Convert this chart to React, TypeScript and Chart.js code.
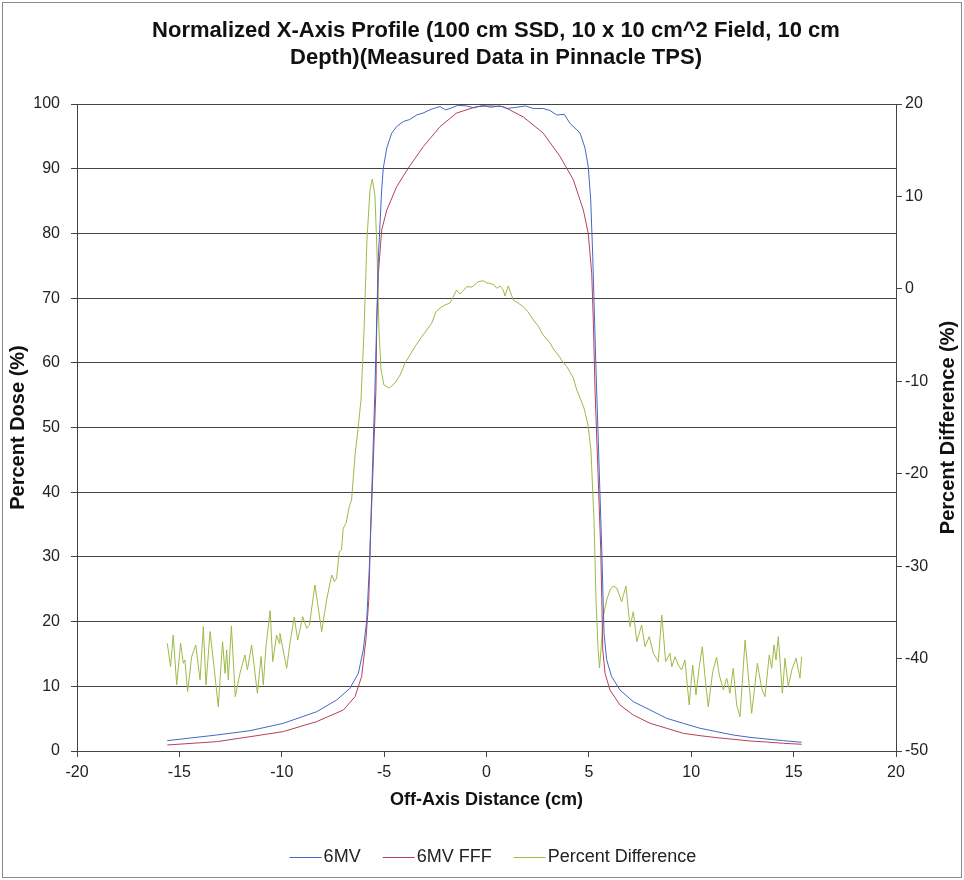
import React, { useEffect, useRef } from "react";
import { Chart, registerables } from "chart.js";

Chart.register(...registerables);

const TITLE_LINES = [
  "Normalized X-Axis Profile (100 cm SSD, 10 x 10 cm^2 Field, 10 cm",
  "Depth)(Measured Data in Pinnacle TPS)",
];
const X_TITLE = "Off-Axis Distance (cm)";
const Y_LEFT_TITLE = "Percent Dose (%)";
const Y_RIGHT_TITLE = "Percent Difference (%)";
const SERIES_NAMES = ["6MV", "6MV FFF", "Percent Difference"];

const X_TICKS = [-20, -15, -10, -5, 0, 5, 10, 15, 20];
const DOSE_TICKS = [0, 10, 20, 30, 40, 50, 60, 70, 80, 90, 100];
const DIFF_TICKS = [-50, -40, -30, -20, -10, 0, 10, 20];

// 6MV profile
const mv6X = [
  -15.59, -13.18, -11.55, -9.92, -8.29, -7.32, -6.67, -6.26, -6.02, -5.85, -5.72, -5.64,
  -5.45, -5.28, -5.12, -5.04, -4.87, -4.63, -4.39, -4.06, -3.75, -3.41, -3.1, -2.76,
  -2.5, -2.27, -2.0, -1.78, -1.4, -0.97, -0.6, -0.16, 0.2, 0.66, 1.0, 1.47, 1.9, 2.29,
  2.77, 3.1, 3.43, 3.8, 4.08, 4.57, 4.81, 4.97, 5.09, 5.19, 5.26, 5.33, 5.38, 5.63,
  5.74, 5.87, 6.11, 6.52, 7.17, 7.99, 8.8, 9.61, 10.43, 11.24, 12.05, 12.87, 13.68,
  14.5, 15.39,
];
const mv6Y = [
  1.6, 2.47, 3.14, 4.28, 6.08, 7.88, 9.69, 12.0, 15.6, 20.2, 28.5, 36.2,
  55.8, 76.4, 86.7, 90.1, 93.2, 95.5, 96.5, 97.3, 97.6, 98.3, 98.6, 99.1,
  99.4, 99.6, 99.1, 99.3, 99.8, 99.7, 99.4, 99.8, 99.5, 99.7, 99.3, 99.5, 99.7, 99.3,
  99.3, 99.0, 98.3, 98.4, 97.0, 95.5, 93.2, 90.3, 85.2, 76.4, 68.7, 60.9, 55.8, 31.1,
  18.2, 14.1, 11.5, 9.43, 7.62, 6.34, 5.05, 4.28, 3.51, 2.99, 2.47, 2.11, 1.85,
  1.6, 1.35,
];

// 6MV FFF profile
const fffX = [
  -15.59, -13.18, -11.55, -9.92, -8.29, -6.99, -6.42, -6.1, -5.89, -5.75, -5.66,
  -5.4, -5.36, -5.28, -5.12, -4.87, -4.39, -3.82, -3.09, -2.27, -1.46, -0.48, 0.17,
  0.82, 1.8, 2.77, 3.59, 4.24, 4.73, 4.97, 5.14, 5.22, 5.3, 5.58, 5.68, 5.79, 6.03,
  6.52, 7.17, 7.99, 8.8, 9.61, 10.43, 11.24, 12.05, 12.87, 13.68, 14.5, 15.39,
];
const fffY = [
  0.93, 1.44, 2.21, 3.0, 4.55, 6.34, 8.4, 11.5, 17.2, 23.3, 33.6,
  55.8, 66.1, 73.8, 80.5, 83.6, 87.2, 90.1, 93.4, 96.5, 98.6, 99.6, 99.7,
  99.6, 98.0, 95.5, 91.9, 88.3, 83.6, 80.0, 73.8, 66.1, 55.8, 31.1, 15.6, 12.0, 9.43,
  7.11, 5.56, 4.28, 3.51, 2.73, 2.37, 2.06, 1.81, 1.55, 1.39, 1.19, 1.04,
];

// Percent difference (right axis)
const diffX = [
  -15.59, -15.43, -15.3, -15.13, -14.94, -14.81, -14.73, -14.6, -14.4, -14.2, -13.99,
  -13.83, -13.7, -13.5, -13.31, -13.1, -12.89, -12.77, -12.69, -12.61, -12.46, -12.27,
  -12.04, -11.8, -11.68, -11.47, -11.19, -11.01, -10.9, -10.77, -10.57, -10.44, -10.25,
  -10.12, -10.09, -9.76, -9.6, -9.39, -9.22, -8.98, -8.78, -8.65, -8.38, -8.25, -8.05,
  -7.81, -7.56, -7.43, -7.32, -7.19, -7.08, -7.0, -6.86, -6.7, -6.59,
  -6.42, -6.28, -6.13, -5.98, -5.84, -5.69, -5.58, -5.45, -5.35, -5.25, -5.15, -5.01,
  -4.75, -4.47, -4.22, -3.98, -3.74, -3.44, -3.16, -2.68, -2.47, -2.27, -2.03, -1.78,
  -1.46, -1.29, -0.97, -0.71, -0.4, -0.16, 0.02, 0.17, 0.37, 0.5, 0.66, 0.82, 0.9,
  1.06, 1.31, 1.54, 1.8, 2.03, 2.29, 2.52, 2.77, 3.1, 3.3, 3.51, 3.69, 3.92, 4.08,
  4.24, 4.41, 4.57, 4.76, 4.96, 5.1, 5.25, 5.35, 5.45, 5.52, 5.59, 5.7, 5.87, 6.03,
  6.19, 6.36, 6.45, 6.6, 6.81, 7.01, 7.17, 7.34, 7.58, 7.74, 7.95, 8.15, 8.39, 8.56,
  8.75, 8.96, 9.05, 9.21, 9.37, 9.53, 9.69, 9.9, 10.07, 10.23, 10.39, 10.54, 10.67,
  10.83, 11.05, 11.24, 11.37, 11.57, 11.73, 11.89, 12.05, 12.22, 12.38, 12.63, 12.82,
  12.95, 13.23, 13.44, 13.6, 13.81, 13.93, 14.04, 14.14, 14.25, 14.45, 14.58, 14.74,
  14.91, 15.12, 15.31, 15.39,
];
const diffY = [
  -38.35, -40.87, -37.45, -42.85, -38.35, -40.51, -40.15, -43.58, -39.79, -38.53, -42.31,
  -36.54, -42.85, -37.08, -40.87, -45.2, -38.17, -41.59, -39.07, -42.31, -36.47, -44.12,
  -41.59, -39.61, -41.23, -38.53, -43.76, -39.79, -42.85, -38.71, -34.81, -40.33, -37.45,
  -38.35, -37.27, -41.05, -38.35, -35.53, -37.99, -35.46, -36.72, -36.36, -32.04, -34.02, -37.08,
  -33.66, -30.95, -31.68, -31.31, -28.43, -28.25, -25.91, -25.36, -23.56, -22.84,
  -17.97, -15.27, -12.02, -4.45, 5.29, 10.7, 11.89, 10.15, 4.2, -4.45, -8.78, -10.4,
  -10.73, -10.19, -9.32, -8.02, -7.16, -6.07, -5.18, -3.73, -2.5, -2.07, -1.75, -1.53,
  -0.12, -0.56, 0.23, 0.2, 0.77, 0.88, 0.63, 0.6, 0.42, 0.06, 0.31, -0.12, -0.77,
  0.31, -1.21, -1.53, -1.93, -2.5, -3.37, -4.02, -4.99, -5.86, -6.61, -7.16, -7.8, -8.42, -9.0,
  -9.64, -10.94, -11.81, -12.89, -14.73, -17.43, -25.01, -33.66, -39.07, -41.02, -39.07, -35.47, -33.66, -32.58,
  -32.15, -32.36, -32.9, -33.85, -32.15, -36.55, -34.93, -38.17, -36.37, -38.72, -37.63, -39.43, -40.34, -35.29,
  -40.34, -39.43, -40.88, -39.8, -40.7, -41.24, -40.15, -45.02, -40.7, -43.94, -40.88, -38.72, -41.96,
  -45.21, -41.42, -39.86, -41.78, -43.4, -42.13, -43.76, -41.05, -45.02, -46.29, -37.99, -42.67,
  -45.92, -40.51, -43.22, -44.12, -39.61, -41.05, -38.53, -40.15, -37.63, -43.76, -39.97, -43.04,
  -41.24, -39.97, -42.13, -39.8,
];

const SERIES_COLORS = ["#4468c4", "#b8405a", "#9dbb47"];

const toPoints = (xs: number[], ys: number[]) => xs.map((x, i) => ({ x, y: ys[i] }));

const FONT = "'Liberation Sans', Arial, Helvetica, sans-serif";

export default function App() {
  const ref = useRef<HTMLCanvasElement>(null);

  useEffect(() => {
    document.body.style.margin = "0";
    const canvas = ref.current;
    if (!canvas) return;

    const framePlugin = {
      id: "framePlugin",
      beforeDraw(chart: any) {
        const { ctx, width, height } = chart;
        ctx.save();
        ctx.fillStyle = "#ffffff";
        ctx.fillRect(0, 0, width, height);
        ctx.restore();
      },
      afterDraw(chart: any) {
        const { ctx, width, height, chartArea } = chart;
        ctx.save();
        ctx.strokeStyle = "#8a8a8a";
        ctx.lineWidth = 1;
        ctx.strokeRect(2.5, 2.5, width - 5, height - 5);

        // chart title
        ctx.fillStyle = "#111";
        ctx.font = `bold 22px ${FONT}`;
        ctx.textAlign = "center";
        ctx.textBaseline = "middle";
        TITLE_LINES.forEach((line, i) => ctx.fillText(line, 496, 31 + i * 27));

        // legend
        ctx.font = `18px ${FONT}`;
        ctx.textAlign = "left";
        const lineLen = 32;
        const gapText = 2;
        const gapItem = 22;
        const widths = SERIES_NAMES.map((n) => ctx.measureText(n).width);
        const total =
          widths.reduce((a, w) => a + lineLen + gapText + w, 0) + gapItem * (SERIES_NAMES.length - 1);
        let lx = 493 - total / 2;
        const ly = 857;
        SERIES_NAMES.forEach((name, i) => {
          ctx.strokeStyle = SERIES_COLORS[i];
          ctx.lineWidth = 1;
          ctx.beginPath();
          ctx.moveTo(lx, ly + 0.5);
          ctx.lineTo(lx + lineLen, ly + 0.5);
          ctx.stroke();
          ctx.fillStyle = "#222";
          ctx.fillText(name, lx + lineLen + gapText, ly);
          lx += lineLen + gapText + widths[i] + gapItem;
        });

        // right axis title, reading bottom-to-top
        ctx.translate(948, (chartArea.top + chartArea.bottom) / 2);
        ctx.rotate(-Math.PI / 2);
        ctx.font = `bold 20px ${FONT}`;
        ctx.fillStyle = "#111";
        ctx.textAlign = "center";
        ctx.textBaseline = "middle";
        ctx.fillText(Y_RIGHT_TITLE, 0, 0);
        ctx.restore();
      },
    };

    const chart = new Chart(canvas, {
      type: "line",
      data: {
        datasets: [
          {
            label: SERIES_NAMES[0],
            data: toPoints(mv6X, mv6Y),
            borderColor: SERIES_COLORS[0],
            backgroundColor: SERIES_COLORS[0],
            borderWidth: 1,
            pointRadius: 0,
            yAxisID: "y",
          },
          {
            label: SERIES_NAMES[1],
            data: toPoints(fffX, fffY),
            borderColor: SERIES_COLORS[1],
            backgroundColor: SERIES_COLORS[1],
            borderWidth: 1,
            pointRadius: 0,
            yAxisID: "y",
          },
          {
            label: SERIES_NAMES[2],
            data: toPoints(diffX, diffY),
            borderColor: SERIES_COLORS[2],
            backgroundColor: SERIES_COLORS[2],
            borderWidth: 1,
            pointRadius: 0,
            yAxisID: "y1",
          },
        ],
      },
      options: {
        responsive: false,
        animation: false,
        devicePixelRatio: 1,
        layout: { padding: { left: 0, right: 0, top: 104, bottom: 54 } },
        plugins: {
          title: { display: false },
          legend: { display: false },
          tooltip: { enabled: false },
        },
        scales: {
          x: {
            type: "linear",
            min: -20,
            max: 20,
            afterBuildTicks: (s: any) => {
              s.ticks = X_TICKS.map((v) => ({ value: v }));
            },
            afterFit: (s: any) => {
              s.height = 75;
            },
            ticks: { color: "#222", padding: 6, font: { family: FONT, size: 16 } },
            grid: { drawOnChartArea: false, drawTicks: true, tickLength: 6, color: "#444" },
            border: { display: true, color: "#444" },
            title: {
              display: true,
              text: X_TITLE,
              color: "#111",
              font: { family: FONT, size: 18, weight: "bold" },
              padding: { top: 4, bottom: 15 },
            },
          },
          y: {
            type: "linear",
            position: "left",
            min: 0,
            max: 100,
            afterBuildTicks: (s: any) => {
              s.ticks = DOSE_TICKS.map((v) => ({ value: v }));
            },
            afterFit: (s: any) => {
              s.width = 77;
            },
            ticks: { color: "#222", padding: 11, font: { family: FONT, size: 16 } },
            grid: { drawOnChartArea: true, drawTicks: true, tickLength: 6, color: "#444" },
            border: { display: true, color: "#444" },
            title: {
              display: true,
              text: Y_LEFT_TITLE,
              color: "#111",
              font: { family: FONT, size: 20, weight: "bold" },
              padding: { top: 6, bottom: 0 },
            },
          },
          y1: {
            type: "linear",
            position: "right",
            min: -50,
            max: 20,
            afterBuildTicks: (s: any) => {
              s.ticks = DIFF_TICKS.map((v) => ({ value: v }));
            },
            afterFit: (s: any) => {
              s.width = 68;
            },
            ticks: { color: "#222", padding: 3, font: { family: FONT, size: 16 } },
            grid: { drawOnChartArea: false, drawTicks: true, tickLength: 6, color: "#444" },
            border: { display: true, color: "#444" },
            title: { display: false },
          },
        },
      },
      plugins: [framePlugin],
    } as any);

    return () => chart.destroy();
  }, []);

  return (
    <div style={{ width: 964, height: 880 }}>
      <canvas ref={ref} width={964} height={880} style={{ display: "block" }} />
    </div>
  );
}
